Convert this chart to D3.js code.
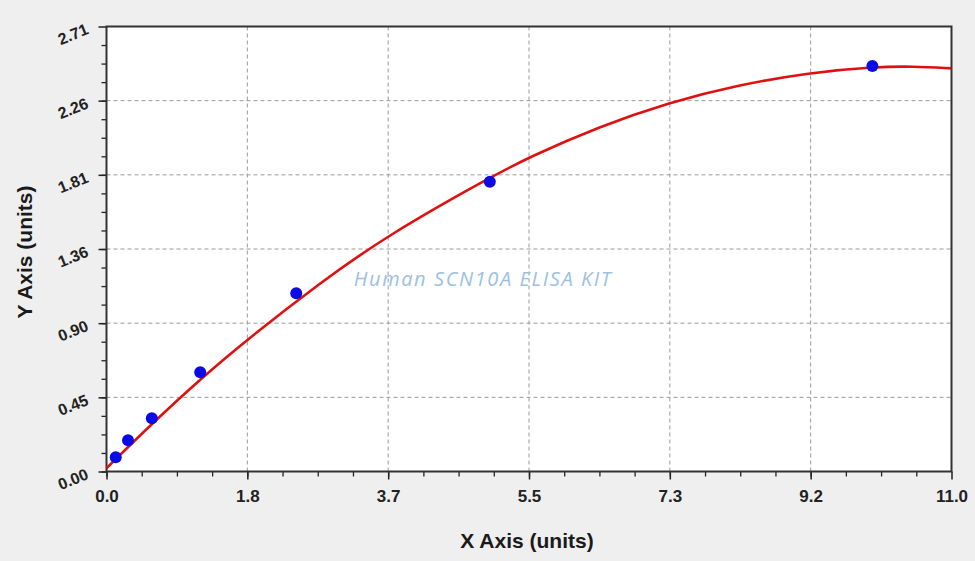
<!DOCTYPE html>
<html>
<head>
<meta charset="utf-8">
<script src="https://cdn.jsdelivr.net/npm/d3@7"></script>
<style>
  html, body { margin: 0; padding: 0; background: #efefef; }
  svg { display: block; font-family: "Liberation Sans", Arial, sans-serif; }
</style>
</head>
<body>
<svg id="chart"></svg>
<script>
// standards
const pointX = [0.12, 0.28, 0.59, 1.22, 2.47, 4.99, 9.97];
const pointY = [0.087, 0.19, 0.325, 0.605, 1.085, 1.765, 2.47];

// fitted curve
const curveX = [0, 0.6, 1.22, 1.8, 2.78, 3.67, 4.98, 5.5, 6.42, 7.33, 8.2, 9.16, 9.97, 10.5, 11.0];
const curveY = [0.02, 0.295, 0.562, 0.792, 1.15, 1.442, 1.788, 1.914, 2.102, 2.248, 2.352, 2.43, 2.463, 2.468, 2.455];

const xTicks = [0, 11 / 6, 22 / 6, 33 / 6, 44 / 6, 55 / 6, 11];
const yTicks = [0, 2.71 / 6, 5.42 / 6, 8.13 / 6, 10.84 / 6, 13.55 / 6, 2.71];
const xTickLabels = ['0.0', '1.8', '3.7', '5.5', '7.3', '9.2', '11.0'];
const yTickLabels = ['0.00', '0.45', '0.90', '1.36', '1.81', '2.26', '2.71'];

const W = 975, H = 561;
const MARGIN = { top: 26.5, right: 23.5, bottom: 89.5, left: 106.5 };
const WIDTH = W - MARGIN.left - MARGIN.right;
const HEIGHT = H - MARGIN.top - MARGIN.bottom;

const svg = d3.select('#chart').attr('width', W).attr('height', H);

const x = d3.scaleLinear().domain([0, 11]).range([0, WIDTH]);
const y = d3.scaleLinear().domain([0, 2.71]).range([HEIGHT, 0]);

const chart = svg.append('g')
  .attr('transform', `translate(${MARGIN.left},${MARGIN.top})`);

chart.append('rect')
  .attr('width', WIDTH)
  .attr('height', HEIGHT)
  .attr('fill', '#fff');

// minor ticks: 4 subdivisions between labelled ticks
const xMinor = d3.range(0, 24).map(i => i * 11 / 24);
const yMinor = d3.range(0, 24).map(i => i * 2.71 / 24);

chart.append('g')
  .attr('transform', `translate(0,${HEIGHT})`)
  .call(d3.axisBottom(x).tickValues(xMinor).tickSize(5).tickFormat(''))
  .call(g => g.select('.domain').remove())
  .selectAll('line').attr('stroke', '#222').attr('stroke-width', 1.3);

chart.append('g')
  .call(d3.axisLeft(y).tickValues(yMinor).tickSize(5).tickFormat(''))
  .call(g => g.select('.domain').remove())
  .selectAll('line').attr('stroke', '#222').attr('stroke-width', 1.3);

// grid
chart.append('g').selectAll('line.gx')
  .data(xTicks.slice(1, -1))
  .enter().append('line')
    .attr('x1', d => x(d)).attr('x2', d => x(d))
    .attr('y1', 0).attr('y2', HEIGHT)
    .attr('stroke', '#9a9a9a').attr('stroke-dasharray', '4,3');

chart.append('g').selectAll('line.gy')
  .data(yTicks.slice(1, -1))
  .enter().append('line')
    .attr('x1', 0).attr('x2', WIDTH)
    .attr('y1', d => y(d)).attr('y2', d => y(d))
    .attr('stroke', '#9a9a9a').attr('stroke-dasharray', '4,3');

// major axes
const xAxis = chart.append('g')
  .attr('transform', `translate(0,${HEIGHT})`)
  .call(d3.axisBottom(x).tickValues(xTicks).tickSize(8).tickPadding(10)
    .tickFormat((d, i) => xTickLabels[i]));
xAxis.select('.domain').remove();
xAxis.selectAll('line').attr('stroke', '#222').attr('stroke-width', 1.5);
xAxis.selectAll('text')
  .attr('fill', '#222')
  .attr('font-size', 17)
  .attr('font-weight', 'bold')
  .attr('font-family', '"Liberation Sans", Arial, sans-serif');

const yAxis = chart.append('g')
  .call(d3.axisLeft(y).tickValues(yTicks).tickSize(8).tickFormat(''));
yAxis.select('.domain').remove();
yAxis.selectAll('line').attr('stroke', '#222').attr('stroke-width', 1.5);

chart.append('g').selectAll('text')
  .data(yTicks)
  .enter().append('text')
    .attr('transform', d => `translate(-17,${y(d) + 7}) rotate(-22)`)
    .attr('text-anchor', 'end')
    .attr('fill', '#222')
    .attr('font-size', 16)
    .attr('font-weight', 'bold')
    .text((d, i) => yTickLabels[i]);

// frame
chart.append('rect')
  .attr('width', WIDTH)
  .attr('height', HEIGHT)
  .attr('fill', 'none')
  .attr('stroke', '#333')
  .attr('stroke-width', 2);

// watermark
chart.append('text')
  .attr('x', x(3.22))
  .attr('y', y(1.13))
  .attr('fill', '#9cc0e4')
  .attr('font-size', 20)
  .attr('font-style', 'italic')
  .attr('font-family', '"Open Sans", "DejaVu Sans", sans-serif')
  .attr('letter-spacing', 1.6)
  .text('Human SCN10A ELISA KIT');

// fit curve
const line = d3.line()
  .x(d => x(d[0]))
  .y(d => y(d[1]))
  .curve(d3.curveBasis);

chart.append('path')
  .datum(curveX.map((v, i) => [v, curveY[i]]))
  .attr('d', line)
  .attr('fill', 'none')
  .attr('stroke', '#e01010')
  .attr('stroke-width', 2.6);

// standards
chart.append('g').selectAll('circle')
  .data(pointX.map((v, i) => [v, pointY[i]]))
  .enter().append('circle')
    .attr('cx', d => x(d[0]))
    .attr('cy', d => y(d[1]))
    .attr('r', 6)
    .attr('fill', '#0a0ae6');

// axis titles
svg.append('text')
  .attr('x', MARGIN.left + WIDTH / 2 - 2)
  .attr('y', 548)
  .attr('text-anchor', 'middle')
  .attr('fill', '#1a1a1a')
  .attr('font-size', 21)
  .attr('font-weight', 'bold')
  .text('X Axis (units)');

svg.append('text')
  .attr('transform', `translate(32,${MARGIN.top + HEIGHT / 2 + 3}) rotate(-90)`)
  .attr('text-anchor', 'middle')
  .attr('fill', '#1a1a1a')
  .attr('font-size', 21)
  .attr('font-weight', 'bold')
  .text('Y Axis (units)');
</script>
</body>
</html>
